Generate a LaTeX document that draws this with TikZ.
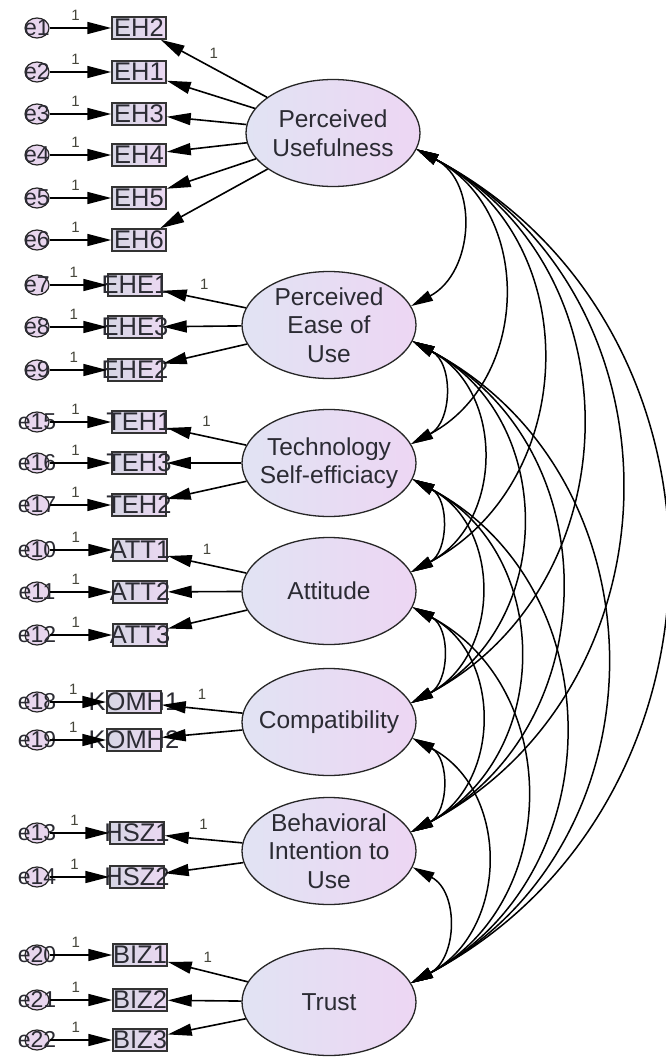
\documentclass[tikz,border=0pt]{standalone}
\usepackage{fontspec}
\setmainfont{Liberation Sans}
\usetikzlibrary{arrows.meta,shapes.geometric}
\definecolor{latL}{HTML}{E1E3F3}
\definecolor{latR}{HTML}{EDD6F3}
\definecolor{obsL}{HTML}{D6D6E4}
\definecolor{obsR}{HTML}{EBD8F2}
\definecolor{errF}{HTML}{E8D6EE}
\definecolor{txtc}{HTML}{2B2B33}
\definecolor{lblc}{HTML}{45453A}
\tikzset{
  lat/.style={ellipse, draw=black!85, line width=1.3pt, left color=latL, right color=latR,
    minimum width=174pt, minimum height=107pt, inner xsep=-16pt, inner ysep=-18pt,
    align=center, font=\fontsize{24.5}{28.5}\selectfont, text=txtc},
  obs/.style={rectangle, draw=black!80, line width=1.5pt, left color=obsL, right color=obsR,
    minimum width=54pt, minimum height=22pt, inner xsep=-20pt, inner ysep=-6pt,
    font=\fontsize{25.5}{25.5}\selectfont, text=txtc},
  err/.style={ellipse, draw=black!85, line width=1.2pt, fill=errF,
    minimum width=24pt, minimum height=20pt, inner sep=-20pt,
    font=\fontsize{23}{23}\selectfont, text=txtc},
  arr/.style={line width=1.6pt, -{Triangle[length=24pt,width=12pt]}},
  covline/.style={line width=1.5pt, {Triangle[length=22pt,width=11pt]}-{Triangle[length=22pt,width=11pt]}},
  covbend/.style={out=-28, in=28, looseness=1.16},
  lbl/.style={font=\fontsize{15}{15}\selectfont, text=lblc, inner sep=0pt}
}
\begin{document}
\begin{tikzpicture}[x=1pt,y=1pt]
\fill[white] (0,0) rectangle (665,-1057);
\useasboundingbox (0,0) rectangle (665,-1057);

% latent variables
\node[lat] (PU)  at (333,-133)  {Perceived\\Usefulness};
\node[lat] (PEU) at (329,-325)  {Perceived\\Ease of\\Use};
\node[lat] (TSE) at (329,-463)  {Technology\\Self-efficiacy};
\node[lat] (ATT) at (329,-591)  {Attitude};
\node[lat] (CMP) at (329,-722)  {Compatibility};
\node[lat] (BI)  at (329,-851)  {Behavioral\\Intention to\\Use};
\node[lat] (TR)  at (329,-1002) {Trust};

% observed variables
\node[obs] (EH2) at (139,-28)  {EH2};
\node[obs] (EH1) at (139,-72)  {EH1};
\node[obs] (EH3) at (139,-114) {EH3};
\node[obs] (EH4) at (139,-155) {EH4};
\node[obs] (EH5) at (139,-198) {EH5};
\node[obs] (EH6) at (139,-240) {EH6};
\node[obs] (EHE1) at (135,-285) {EHE1};
\node[obs] (EHE3) at (135,-327) {EHE3};
\node[obs] (EHE2) at (135,-370) {EHE2};
\node[obs] (TEH1) at (139,-422) {TEH1};
\node[obs] (TEH3) at (139,-463) {TEH3};
\node[obs] (TEH2) at (139,-505) {TEH2};
\node[obs] (ATT1) at (140,-550) {ATT1};
\node[obs] (ATT2) at (140,-592) {ATT2};
\node[obs] (ATT3) at (140,-635) {ATT3};
\node[obs] (KOMH1) at (134,-702) {KOMH1};
\node[obs] (KOMH2) at (134,-740) {KOMH2};
\node[obs] (HSZ1) at (137,-833) {HSZ1};
\node[obs] (HSZ2) at (137,-877) {HSZ2};
\node[obs] (BIZ1) at (140,-955)  {BIZ1};
\node[obs] (BIZ2) at (140,-1000) {BIZ2};
\node[obs] (BIZ3) at (140,-1040) {BIZ3};

% error terms
\node[err] (e1) at (37,-28)  {e1};
\node[err] (e2) at (37,-72)  {e2};
\node[err] (e3) at (37,-114) {e3};
\node[err] (e4) at (37,-155) {e4};
\node[err] (e5) at (37,-198) {e5};
\node[err] (e6) at (37,-240) {e6};
\node[err] (e7) at (37,-285) {e7};
\node[err] (e8) at (37,-327) {e8};
\node[err] (e9) at (37,-370) {e9};
\node[err] (e15) at (37,-422) {e15};
\node[err] (e16) at (37,-463) {e16};
\node[err] (e17) at (37,-505) {e17};
\node[err] (e10) at (37,-550) {e10};
\node[err] (e11) at (37,-592) {e11};
\node[err] (e12) at (37,-635) {e12};
\node[err] (e18) at (37,-702) {e18};
\node[err] (e19) at (37,-740) {e19};
\node[err] (e13) at (37,-833) {e13};
\node[err] (e14) at (37,-877) {e14};
\node[err] (e20) at (37,-955)  {e20};
\node[err] (e21) at (37,-1000) {e21};
\node[err] (e22) at (37,-1040) {e22};

% error -> indicator
\foreach \e/\b in {e1/EH2,e2/EH1,e3/EH3,e4/EH4,e5/EH5,e6/EH6,e7/EHE1,e8/EHE3,e9/EHE2,
  e15/TEH1,e16/TEH3,e17/TEH2,e10/ATT1,e11/ATT2,e12/ATT3,e18/KOMH1,e19/KOMH2,
  e13/HSZ1,e14/HSZ2,e20/BIZ1,e21/BIZ2,e22/BIZ3}
  \draw[arr] (\e) -- node[lbl, pos=0.42, above=7pt] {1} (\b);

% loadings (first with label 1)
\foreach \l/\b in {PU/EH2,PEU/EHE1,TSE/TEH1,ATT/ATT1,CMP/KOMH1,BI/HSZ1,TR/BIZ1}
  \draw[arr] (\l) -- node[lbl, pos=0.5, above=9pt] {1} (\b);
\foreach \l/\b in {PU/EH1,PU/EH3,PU/EH4,PU/EH5,PU/EH6,PEU/EHE3,PEU/EHE2,
  TSE/TEH3,TSE/TEH2,ATT/ATT2,ATT/ATT3,CMP/KOMH2,BI/HSZ2,TR/BIZ2,TR/BIZ3}
  \draw[arr] (\l) -- (\b);

% covariances
\foreach \a/\b in {PU/PEU,PU/TSE,PU/ATT,PU/CMP,PU/BI,PU/TR,
  PEU/TSE,PEU/ATT,PEU/CMP,PEU/BI,PEU/TR,
  TSE/ATT,TSE/CMP,TSE/BI,TSE/TR,
  ATT/CMP,ATT/BI,ATT/TR,
  CMP/BI,CMP/TR,
  BI/TR}
  \draw[covline] (\a.-11) to[covbend] (\b.13);
\end{tikzpicture}
\end{document}
